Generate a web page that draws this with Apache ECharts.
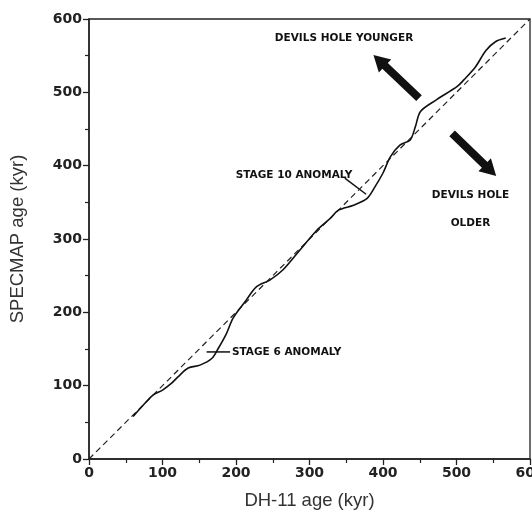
<!DOCTYPE html>
<html>
<head>
<meta charset="utf-8">
<script src="https://cdn.jsdelivr.net/npm/echarts@6/dist/echarts.min.js"></script>
<style>
  html, body { margin: 0; padding: 0; background: #fff; }
  #main { width: 532px; height: 513px; }
</style>
</head>
<body>
<div id="main"></div>
<script>
// DH-11 age vs SPECMAP age (kyr)
var dhAge = [60, 78, 87, 100, 112, 121, 135, 151, 167, 176, 187, 196, 212, 228, 246, 264, 287, 310, 328, 339, 360, 378, 389, 400, 410, 423, 437, 444, 451, 473, 501, 510, 526, 540, 553, 567];
var specmapAge = [58, 78, 87, 94, 103, 112, 124, 128, 137, 151, 171, 192, 214, 235, 244, 258, 285, 312, 328, 339, 346, 355, 371, 390, 412, 428, 435, 453, 474, 490, 508, 517, 535, 557, 569, 574];
var oneToOne = [[0, 0], [600, 600]];
var tickStep = 100;

// annotation anchors, in data units
var labels = [
  { text: 'DEVILS HOLE YOUNGER', at: [347, 574] },
  { text: 'DEVILS HOLE', at: [519, 360] },
  { text: 'OLDER', at: [519, 322] },
  { text: 'STAGE 10 ANOMALY', at: [279, 387] },
  { text: 'STAGE 6 ANOMALY', at: [269, 146] }
];
var arrows = [
  { from: [449, 492], to: [387, 551] },
  { from: [494, 444], to: [554, 386] }
];
var leaders = [
  { from: [348, 383], to: [377, 361] },
  { from: [160, 146], to: [192, 146] }
];

var myChart = echarts.init(document.getElementById('main'));

var axisCommon = {
  type: 'value',
  min: 0,
  max: 600,
  interval: tickStep,
  nameLocation: 'middle',
  nameTextStyle: { fontFamily: 'Liberation Sans', fontSize: 18.5, color: '#333' },
  axisLine: { lineStyle: { color: '#222', width: 1.5 } },
  axisTick: { length: 6, lineStyle: { color: '#222', width: 1.3 } },
  minorTick: { show: true, splitNumber: 2, length: 4, lineStyle: { color: '#222', width: 1.2 } },
  splitLine: { show: false },
  axisLabel: { fontFamily: 'DejaVu Sans', fontWeight: 'bold', fontSize: 14, color: '#222', margin: 7 }
};

myChart.setOption({
  animation: false,
  grid: {
    left: 89, right: 2, top: 19, bottom: 54,
    outerBoundsMode: 'none', containLabel: false,
    show: true, borderColor: '#222', borderWidth: 1.3
  },
  xAxis: Object.assign({}, axisCommon, { name: 'DH-11 age (kyr)', nameGap: 32 }),
  yAxis: Object.assign({}, axisCommon, { name: 'SPECMAP age (kyr)', nameGap: 62 }),
  series: [
    {
      name: '1:1',
      type: 'line',
      data: oneToOne,
      symbol: 'none',
      lineStyle: { color: '#222', width: 1.2, type: [6, 4] }
    },
    {
      name: 'DH-11',
      type: 'line',
      data: dhAge.map(function (x, i) { return [x, specmapAge[i]]; }),
      symbol: 'none',
      smooth: 0.3,
      lineStyle: { color: '#111', width: 1.6 }
    }
  ]
});

function px(p) { return myChart.convertToPixel({ gridIndex: 0 }, p); }

function arrowShape(a, b) {
  var dx = b[0] - a[0], dy = b[1] - a[1];
  var len = Math.sqrt(dx * dx + dy * dy);
  var ux = dx / len, uy = dy / len, nx = -uy, ny = ux;
  var sw = 4, hw = 9, hl = 16;
  var neck = [b[0] - ux * hl, b[1] - uy * hl];
  return [
    [a[0] + nx * sw, a[1] + ny * sw],
    [neck[0] + nx * sw, neck[1] + ny * sw],
    [neck[0] + nx * hw, neck[1] + ny * hw],
    b,
    [neck[0] - nx * hw, neck[1] - ny * hw],
    [neck[0] - nx * sw, neck[1] - ny * sw],
    [a[0] - nx * sw, a[1] - ny * sw]
  ];
}

var graphics = [];
labels.forEach(function (l) {
  var p = px(l.at);
  graphics.push({
    type: 'text', x: p[0], y: p[1],
    style: { text: l.text, fill: '#111', font: 'bold 10.5px "DejaVu Sans"', align: 'center', verticalAlign: 'middle' }
  });
});
arrows.forEach(function (a) {
  graphics.push({
    type: 'polygon',
    shape: { points: arrowShape(px(a.from), px(a.to)) },
    style: { fill: '#111' }
  });
});
leaders.forEach(function (l) {
  var p1 = px(l.from), p2 = px(l.to);
  graphics.push({
    type: 'line',
    shape: { x1: p1[0], y1: p1[1], x2: p2[0], y2: p2[1] },
    style: { stroke: '#111', lineWidth: 1.5 }
  });
});
myChart.setOption({ graphic: graphics });
</script>
</body>
</html>
